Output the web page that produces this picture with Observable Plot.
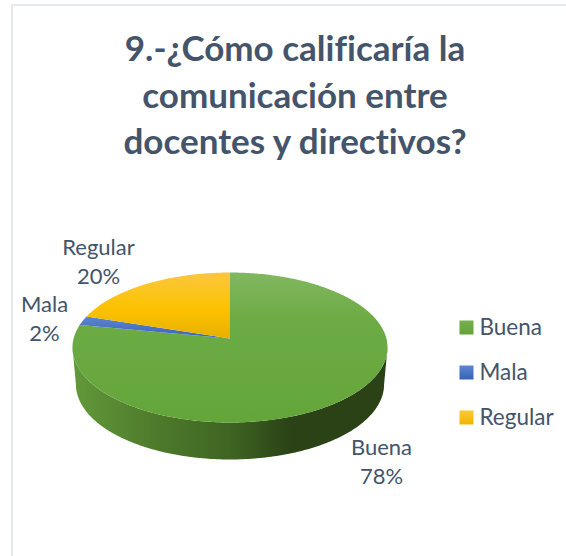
<!DOCTYPE html>
<html lang="es">
<head>
<meta charset="utf-8">
<script src="https://cdn.jsdelivr.net/npm/d3@7"></script>
<script src="https://cdn.jsdelivr.net/npm/@observablehq/plot@0.6"></script>
<style>
  html, body { margin: 0; padding: 0; background: #fff; overflow: hidden; }
  #page { position: relative; width: 566px; height: 556px; font-family: Lato, sans-serif; font-variant-ligatures: none; }
  #frame { position: absolute; left: 11px; top: 4px; right: -4px; bottom: -4px;
           border-left: 2px solid #e4e9f1; border-top: 2px solid #e4e9f1; pointer-events: none; }
  #title { height: 170px; box-sizing: border-box; padding-top: 24px; padding-left: 24px; text-align: center;
           font-size: 35px; line-height: 46.5px; font-weight: 700; color: #44546a; }
  svg { display: block; font-variant-ligatures: none; }
</style>
</head>
<body>
<div id="page">
  <div id="frame"></div>
  <div id="title">9.-¿Cómo calificaría la<br>comunicación entre<br>docentes y directivos?</div>
  <div id="chart"></div>
</div>
<script>
const categories = ["Buena", "Mala", "Regular"];
const percents = [78, 2, 20];

// Drawing constants of the tilted pie
const cx = 229.5, apexY = 338, radX = 156.4, radY = 73.9, tilt = 0.12;
const depth = 37, bottomScale = 0.978;
const project = (a, shift = 0, s = 1) => {
  const u = Math.sin(a), v = Math.cos(a), w = 1 + tilt * v;
  return { x: cx + s * radX * u / w, y: apexY + shift - radY * v / w };
};
const rim = (a0, a1, shift, s) => {
  const n = Math.max(2, Math.ceil(Math.abs(a1 - a0) * 60));
  return d3.range(n + 1).map(i => project(a0 + (a1 - a0) * i / n, shift, s));
};

const arcs = d3.pie().sort(null)(percents);
const apex = { x: cx, y: apexY };
const slicePoints = arcs.map(a => [apex, ...rim(a.startAngle, a.endAngle, 0, 1)]);

const sideStart = Math.acos(-tilt), sideEnd = 2 * Math.PI - sideStart;
const sidePoints = [...rim(sideStart, sideEnd, 0, 1), ...rim(sideEnd, sideStart, depth, bottomScale)];

const ids = ["gBuena", "gMala", "gRegular"];
const stops = {
  gBuena: [[0, "#82b760"], [0.3, "#6dac45"], [1, "#64a53a"]],
  gMala: [[0, "#5c86d0"], [1, "#3963b6"]],
  gRegular: [[0, "#fcc63e"], [0.55, "#fcc200"], [1, "#e8b000"]],
  lBuena: [[0, "#75b04d"], [1, "#63a338"]],
  lMala: [[0, "#5c86d0"], [1, "#3562b8"]],
  lRegular: [[0, "#fdc73c"], [1, "#efb600"]]
};
const sideStops = [[0, "#63993a"], [0.25, "#4f7c2c"], [0.5, "#3e6522"], [0.69, "#2b4216"], [1, "#2b4216"]];

const defsMark = () => {
  const ns = "http://www.w3.org/2000/svg";
  const defs = document.createElementNS(ns, "defs");
  const add = (id, list, horizontal) => {
    const g = document.createElementNS(ns, "linearGradient");
    g.setAttribute("id", id);
    g.setAttribute("x1", 0); g.setAttribute("y1", 0);
    g.setAttribute("x2", horizontal ? 1 : 0); g.setAttribute("y2", horizontal ? 0 : 1);
    for (const [o, c] of list) {
      const s = document.createElementNS(ns, "stop");
      s.setAttribute("offset", o); s.setAttribute("stop-color", c);
      g.appendChild(s);
    }
    defs.appendChild(g);
  };
  for (const k in stops) add(k, stops[k], false);
  add("gSide", sideStops, true);
  return defs;
};

const textColor = "#44546a", font = "Lato, sans-serif";
const labelAt = { Buena: [381, 459.5], Mala: [44, 316.5], Regular: [98, 260] };

document.getElementById("chart").appendChild(Plot.plot({
  width: 566, height: 386,
  margin: 0,
  x: { domain: [0, 566], range: [0, 566], axis: null },
  y: { domain: [170, 556], range: [0, 386], axis: null },
  style: { background: "transparent" },
  marks: [
    defsMark,
    Plot.line(sidePoints, { x: "x", y: "y", fill: "url(#gSide)", stroke: "none" }),
    ...slicePoints.map((pts, i) =>
      Plot.line(pts, { x: "x", y: "y", fill: `url(#${ids[i]})`, stroke: "none" })
    ),
    Plot.text(categories, {
      x: d => labelAt[d][0],
      y: d => labelAt[d][1],
      text: d => `${d}\n${percents[categories.indexOf(d)]}%`,
      fontSize: 22, lineHeight: 1.32, fontFamily: font, fill: textColor, textAnchor: "middle"
    }),
    ...categories.map((c, i) =>
      Plot.dot([c], {
        x: () => 466, y: () => 327 + 45 * i,
        symbol: "square", r: 7.9, fill: `url(#l${c})`, stroke: "none"
      })
    ),
    Plot.text(categories, {
      x: () => 479, y: (d, i) => 327 + 45 * i,
      text: d => d,
      fontSize: 22.5, fontFamily: font, fill: textColor, textAnchor: "start"
    })
  ]
}));
</script>
</body>
</html>
